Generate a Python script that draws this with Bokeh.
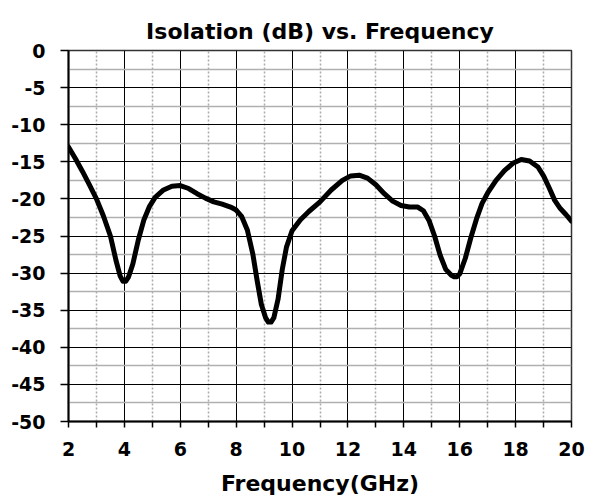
from bokeh.plotting import figure
from bokeh.models import Range1d, FixedTicker
from bokeh.embed import file_html
from bokeh.resources import INLINE

freq = [2.0, 2.25, 2.5, 2.75, 3.0, 3.25, 3.5, 3.7, 3.85, 3.95, 4.05, 4.15, 4.3, 4.5,
        4.7, 4.9, 5.1, 5.4, 5.7, 6.0, 6.3, 6.6, 6.9, 7.2, 7.5, 7.8, 8.0, 8.2, 8.4,
        8.6, 8.75, 8.9, 9.05, 9.15, 9.25, 9.35, 9.5, 9.65, 9.8, 10.0, 10.3, 10.6,
        11.0, 11.4, 11.8, 12.1, 12.4, 12.7, 13.0, 13.3, 13.6, 13.9, 14.2, 14.5,
        14.7, 14.9, 15.1, 15.3, 15.5, 15.7, 15.8, 15.9, 16.0, 16.2, 16.4, 16.6,
        16.8, 17.0, 17.3, 17.6, 17.9, 18.2, 18.5, 18.8, 19.0, 19.2, 19.4, 19.6,
        19.8, 20.0]
isolation = [-13.0, -14.6, -16.3, -18.1, -20.0, -22.3, -25.0, -28.3, -30.4, -31.1,
             -31.1, -30.5, -28.8, -25.5, -22.8, -21.0, -19.8, -18.8, -18.3, -18.2,
             -18.6, -19.3, -19.9, -20.4, -20.7, -21.1, -21.5, -22.4, -24.2, -27.5,
             -31.0, -34.2, -36.0, -36.6, -36.6, -36.0, -33.5, -29.5, -26.5, -24.3,
             -22.8, -21.7, -20.4, -18.8, -17.5, -16.9, -16.8, -17.2, -18.1, -19.3,
             -20.3, -20.9, -21.1, -21.1, -21.6, -22.9, -25.0, -27.6, -29.5, -30.3,
             -30.5, -30.5, -30.1, -28.0, -25.2, -22.7, -20.6, -19.2, -17.5, -16.2,
             -15.2, -14.7, -14.9, -15.7, -16.9, -18.5, -20.2, -21.3, -22.1, -23.0]

x_ticks = [2, 4, 6, 8, 10, 12, 14, 16, 18, 20]
x_minor = [3, 5, 7, 9, 11, 13, 15, 17, 19]
y_ticks = [0, -5, -10, -15, -20, -25, -30, -35, -40, -45, -50]
y_minor = [-2.5, -7.5, -12.5, -17.5, -22.5, -27.5, -32.5, -37.5, -42.5, -47.5]

FONT = "DejaVu Sans"

p = figure(frame_width=503, frame_height=371, output_backend="svg",
           toolbar_location=None, x_range=Range1d(2, 20), y_range=Range1d(-50, 0),
           min_border_left=68, min_border_right=22, min_border_top=50,
           min_border_bottom=78, title="Isolation (dB) vs. Frequency")

p.title.text_font = FONT
p.title.text_font_style = "bold"
p.title.text_font_size = "22px"
p.title.align = "center"
p.title.vertical_align = "top"
p.title.text_color = "black"
p.title.standoff = 10

p.outline_line_color = "#333333"
p.outline_line_width = 1.5
p.background_fill_color = "white"
p.border_fill_color = "white"

p.xaxis.ticker = FixedTicker(ticks=x_ticks, minor_ticks=x_minor)
p.yaxis.ticker = FixedTicker(ticks=y_ticks, minor_ticks=y_minor)
p.yaxis.major_label_overrides = {t: str(t) for t in y_ticks}

for ax in (p.xaxis[0], p.yaxis[0]):
    ax.major_label_text_font = FONT
    ax.major_label_text_font_style = "bold"
    ax.major_label_text_font_size = "19px"
    ax.major_label_text_color = "black"
    ax.axis_line_color = "black"
    ax.axis_line_width = 2
    ax.major_tick_line_color = "black"
    ax.major_tick_in = 0
    ax.major_tick_line_width = 1.5

p.yaxis.major_tick_out = 8
p.xaxis.major_tick_out = 6
p.xaxis.minor_tick_in = 0
p.xaxis.minor_tick_out = 6
p.xaxis.minor_tick_line_color = "black"
p.xaxis.minor_tick_line_width = 1.5
p.yaxis.minor_tick_in = 0
p.yaxis.minor_tick_out = 0
p.xaxis.major_label_standoff = 14
p.yaxis.major_label_standoff = 15

p.xaxis.axis_label = "Frequency(GHz)"
p.xaxis.axis_label_text_font = FONT
p.xaxis.axis_label_text_font_style = "bold"
p.xaxis.axis_label_text_font_size = "22px"
p.xaxis.axis_label_text_color = "black"
p.xaxis.axis_label_standoff = 12

p.xgrid.grid_line_color = "black"
p.xgrid.grid_line_width = 1
p.xgrid.minor_grid_line_color = "#aaaaaa"
p.xgrid.minor_grid_line_dash = "2 2"
p.xgrid.minor_grid_line_width = 1.5
p.ygrid.grid_line_color = "black"
p.ygrid.grid_line_width = 1
p.ygrid.minor_grid_line_color = "#b0b0b0"
p.ygrid.minor_grid_line_width = 1.5

p.line(freq, isolation, line_color="black", line_width=5, line_join="round",
       line_cap="round")

open("out.html", "w").write(file_html(p, INLINE))
